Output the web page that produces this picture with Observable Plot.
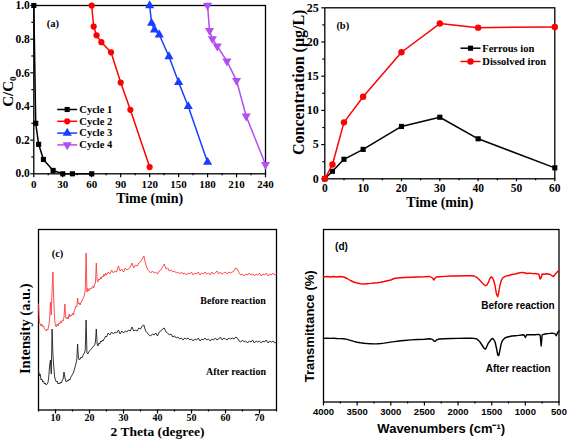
<!DOCTYPE html>
<html><head><meta charset="utf-8">
<script src="https://cdn.jsdelivr.net/npm/d3@7"></script>
<script src="https://cdn.jsdelivr.net/npm/@observablehq/plot@0.6"></script>
<style>
body{margin:0;background:#fff;}
#wrap{position:relative;width:567px;height:444px;overflow:hidden;background:#fff;}
</style></head><body><div id="wrap"></div>
<script>
// ---------- Panel (a) ----------
const cycleNames = ["Cycle 1", "Cycle 2", "Cycle 3", "Cycle 4"];
const cycle1Time = [0, 2, 5, 10, 20, 30, 40, 60];
const cycle1C = [1.0, 0.30, 0.175, 0.085, 0.02, 0.0, 0.0, 0.0];
const cycle2Time = [60, 62, 65, 70, 80, 90, 100, 120];
const cycle2C = [1.0, 0.875, 0.823, 0.782, 0.722, 0.542, 0.38, 0.04];
const cycle3Time = [120, 122, 125, 130, 140, 150, 160, 180];
const cycle3C = [1.0, 0.895, 0.856, 0.826, 0.697, 0.544, 0.40, 0.069];
const cycle4Time = [180, 182, 185, 190, 200, 210, 220, 240];
const cycle4C = [1.0, 0.851, 0.802, 0.758, 0.669, 0.554, 0.342, 0.055];
const aXTicks = [0, 30, 60, 90, 120, 150, 180, 210, 240];
const aXMinor = [15, 45, 75, 105, 135, 165, 195, 225];
const aYTicks = [0, 0.2, 0.4, 0.6, 0.8, 1.0];
const aYMinor = [0.1, 0.3, 0.5, 0.7, 0.9];

// ---------- Panel (b) ----------
const bSeriesNames = ["Ferrous ion", "Dissolved iron"];
const bTime = [0, 2, 5, 10, 20, 30, 40, 60];
const ferrousIon = [0, 1.1, 2.85, 4.3, 7.65, 9.0, 5.85, 1.6];
const dissolvedIron = [0, 2.1, 8.25, 12.0, 18.5, 22.7, 22.1, 22.2];
const bXTicks = [0, 10, 20, 30, 40, 50, 60];
const bXMinor = [5, 15, 25, 35, 45, 55];
const bYTicks = [0, 5, 10, 15, 20, 25];
const bYMinor = [2.5, 7.5, 12.5, 17.5, 22.5];

// ---------- Panel (c) XRD ----------
const xrdTheta = [
  5,5.25,5.5,5.75,6,6.25,6.5,6.75,7,7.25,
  7.5,7.75,8,8.25,8.5,8.75,9,9.25,9.5,9.75,
  10,10.25,10.5,10.75,11,11.25,11.5,11.75,12,12.25,
  12.5,12.75,13,13.25,13.5,13.75,14,14.25,14.5,14.75,
  15,15.25,15.5,15.75,16,16.25,16.5,16.75,17,17.25,
  17.5,17.75,18,18.25,18.5,18.75,19,19.25,19.5,19.75,
  20,20.25,20.5,20.75,21,21.25,21.5,21.75,22,22.25,
  22.5,22.75,23,23.25,23.5,23.75,24,24.25,24.5,24.75,
  25,
  25.5,26,26.5,27,27.5,28,28.5,29,29.5,30,
  30.5,31,31.5,32,32.5,33,33.5,34,34.5,35,
  35.5,36,36.5,37,37.5,38,38.5,39,39.5,40,
  40.5,41,41.5,42,42.5,43,43.5,44,44.5,45,
  45.5,46,46.5,47,47.5,48,48.5,49,49.5,50,
  50.5,51,51.5,52,52.5,53,53.5,54,54.5,55,
  55.5,56,56.5,57,57.5,58,58.5,59,59.5,60,
  60.5,61,61.5,62,62.5,63,63.5,64,64.5,65,
  65.5,66,66.5,67,67.5,68,68.5,69,69.5,70,
  70.5,71,71.5,72,72.5,73,73.5,74,74.5,75
];
const xrdBefore = [
  106,88,86,84,86,83,84,81,80,79,
  81,80,84,90,108,95,120,138,108,90,
  84,83,86,84,87,86,89,87,90,89,
  93,106,93,91,93,91,96,93,95,94,
  97,95,99,101,104,103,112,106,107,105,
  108,109,111,112,115,120,157,118,122,119,
  120,122,121,123,124,122,126,127,147,129,
  128,131,130,133,131,134,133,136,134,137,
  135,
  138,136,140,137,139,138,144,139,141,138,
  142,140,141,143,147,142,145,144,147,148,
  151,154,146,141,139,137,139,137,138,136,
  139,140,143,146,141,142,139,140,138,139,
  137,138,136,138,136,137,135,137,136,138,
  135,137,136,138,135,137,136,138,136,137,
  135,138,136,137,139,136,138,136,137,138,
  136,138,137,138,139,142,141,137,135,136,
  134,136,135,137,135,136,134,136,135,137,
  134,136,135,137,134,136,135,137,135,136
];
const xrdAfter = [
  40,34,36,30,31,28,29,26,27,25,
  26,27,32,44,50,36,81,55,43,33,
  30,28,29,26,27,26,28,27,30,31,
  38,33,29,28,30,29,31,30,33,34,
  36,37,40,43,46,50,66,52,50,51,
  53,52,54,56,57,60,90,57,56,58,
  59,60,61,62,63,64,65,68,81,66,
  64,67,66,69,68,70,69,71,72,74,
  73,
  77,75,78,76,78,77,80,76,79,77,
  79,78,80,79,83,79,80,79,82,81,
  84,85,79,77,75,74,76,75,77,74,
  78,79,81,82,78,77,75,76,73,74,
  72,73,71,72,70,72,71,72,70,71,
  69,71,70,72,69,71,70,72,70,71,
  69,71,70,72,70,71,73,70,72,71,
  70,72,71,72,71,73,72,69,68,70,
  68,69,67,69,68,70,67,69,68,69,
  67,69,68,70,67,69,68,69,67,68
];
const cXTicks = [10, 20, 30, 40, 50, 60, 70];
const cXMinor = [5, 15, 25, 35, 45, 55, 65, 75];

// ---------- Panel (d) FTIR ----------
const wavenumber = [
  4000,3950,3900,3850,3800,3750,3700,3650,3600,3550,
  3500,3450,3400,3350,3300,3250,3200,3150,3100,3050,
  3000,2950,2900,2850,2800,2700,2600,2500,2420,2380,
  2360,2340,2320,2280,2200,2100,2000,1900,1800,1760,
  1720,1680,1640,1610,1590,1570,1550,1530,1510,1490,
  1470,1450,1430,1410,1395,1380,1360,1340,1300,1250,
  1200,1150,1100,1050,1020,1000,980,950,900,870,
  850,820,800,780,765,750,720,690,660,630,
  600,580,560,540,520,500
];
const ftirBefore = [
  127,127.5,127,127.5,127,127.5,127,125.5,123.5,122,
  121,120.3,120,120.3,120.6,121,121.3,121.8,122.5,123.3,
  124,125.5,126,126.3,126.5,126.8,127,127.2,127.5,126,
  124,126,127,127.3,127.6,128,128,128.2,128.3,128,
  126.6,124,121,119,118.3,119,121.6,125,127,126.5,
  123.5,118,110,107.3,112,118,123,126,127.6,128.5,
  129.5,130,131,131.6,131.3,131,130.5,130.8,130.6,130.2,
  130.6,130,129.8,125,126.5,130,129.8,130.2,130,129.5,
  128,127.5,129.5,131,132.5,133.3
];
const ftirAfter = [
  65.6,65.8,65.6,65.8,65.5,65.4,65.2,64.6,63.6,62.6,
  61.8,61.2,60.8,60.5,60.3,60.1,60.2,60.5,60.9,61.4,
  61.9,62.4,62.8,63.2,63.5,64.1,64.5,64.8,65.2,64.6,
  63,62.6,64.2,65,65.3,65.5,65.6,65.7,65.8,65.6,
  65,62.5,58.5,55.5,55,58,61,62.5,64.5,65.6,
  64.5,62,56,49,48.5,53,60,63.5,66.3,67.2,
  68,68.3,68.6,69,69.2,66.5,69.3,69.4,69.2,69.4,
  69.3,69.6,69.5,68.8,58,69.2,69.8,70.2,70.4,70.6,
  70.8,70.6,70.2,68.3,71.5,73
];
const dXTicks = [4000, 3500, 3000, 2500, 2000, 1500, 1000, 500];
const dXMinor = [3750, 3250, 2750, 2250, 1750, 1250, 750];

// ---------- styling ----------
const SERIF = "'Liberation Serif','Times New Roman',Times,serif";
const SANS = "'Liberation Sans',Arial,Helvetica,sans-serif";
const wrap = document.getElementById("wrap");
function mount(svg, left, top) {
  svg.style.position = "absolute";
  svg.style.left = left + "px";
  svg.style.top = top + "px";
  svg.style.maxWidth = "none";
  wrap.appendChild(svg);
}
const lineSym = {draw(ctx) { ctx.moveTo(-10, 0); ctx.lineTo(10, 0); }};
const blank = () => "";
// centred label helper (explicit anchors so frameAnchor does not change them)
function label(str, frameAnchor, opts) {
  return Plot.text([str], {frameAnchor, textAnchor: "middle", lineAnchor: "middle", fill: "#000", ...opts});
}

// ---------- build panel (a) ----------
{
  const times = [cycle1Time, cycle2Time, cycle3Time, cycle4Time];
  const vals = [cycle1C, cycle2C, cycle3C, cycle4C];
  const colors = ["#000000", "#ff0000", "#1a3cff", "#b24ef2"];
  const syms = ["square", "circle", "triangle", "triangle"];
  const rots = [0, 0, 0, 180];
  const rs = [2.9, 3.1, 3.4, 3.4];
  const marks = [
    Plot.frame({stroke: "#000", strokeWidth: 1.3}),
    Plot.axisX({ticks: aXTicks, tickSize: 4, tickPadding: 2, tickFormat: d => String(d), label: null,
      fontSize: 11, fontWeight: "bold", fontFamily: SERIF, strokeWidth: 1.2}),
    Plot.axisX({ticks: aXMinor, tickSize: 2, tickFormat: blank, label: null, strokeWidth: 1.2}),
    Plot.axisY({ticks: aYTicks, tickSize: 3, tickPadding: 1, tickFormat: d3.format(".1f"), label: null,
      fontSize: 11.5, fontWeight: "bold", fontFamily: SERIF, strokeWidth: 1.2}),
    Plot.axisY({ticks: aYMinor, tickSize: 2, tickFormat: blank, label: null, strokeWidth: 1.2})
  ];
  cycleNames.forEach((name, i) => {
    const rows = times[i].map((t, j) => ({t, c: vals[i][j]}));
    marks.push(Plot.line(rows, {x: "t", y: "c", stroke: colors[i], strokeWidth: 1.5}));
    marks.push(Plot.dot(rows, {x: "t", y: "c", symbol: syms[i], fill: colors[i], r: rs[i], rotate: rots[i]}));
    // legend entry
    marks.push(Plot.dot([name], {x: null, y: null, frameAnchor: "top-left", dx: 33.4, dy: 104 + 11.8 * i,
      symbol: lineSym, fill: "none", stroke: colors[i], strokeWidth: 1.5}));
    marks.push(Plot.dot([name], {x: null, y: null, frameAnchor: "top-left", dx: 33.4, dy: 104 + 11.8 * i,
      symbol: syms[i], fill: colors[i], r: rs[i], rotate: rots[i]}));
    marks.push(Plot.text([name], {frameAnchor: "top-left", dx: 45.5, dy: 104 + 11.8 * i, textAnchor: "start", lineAnchor: "middle",
      fontSize: 10.5, fontWeight: "bold", fontFamily: SERIF, fill: "#000"}));
  });
  marks.push(label("(a)", "top-left", {dx: 19, dy: 18, fontSize: 10.5, fontWeight: "bold", fontFamily: SERIF}));
  marks.push(label("Time (min)", "bottom", {dy: 25, fontSize: 14, fontWeight: "bold", fontFamily: SERIF}));
  marks.push(label("C/C\u2080", "left", {rotate: -90, dx: -26, dy: 2, fontSize: 15, fontWeight: "bold", fontFamily: SERIF}));
  const svg = Plot.plot({
    width: 283, height: 212, marginLeft: 33.3, marginRight: 18, marginTop: 5, marginBottom: 38.7,
    style: {fontFamily: SERIF, fontWeight: "bold", fontSize: "11px", color: "#000", background: "transparent", overflow: "visible"},
    x: {domain: [0, 240], label: null},
    y: {domain: [0, 1], label: null},
    marks
  });
  mount(svg, 0, 0);
}

// ---------- build panel (b) ----------
{
  const series = [ferrousIon, dissolvedIron];
  const colors = ["#000000", "#ff0000"];
  const syms = ["square", "circle"];
  const rs = [2.9, 3.2];
  const marks = [
    Plot.frame({stroke: "#000", strokeWidth: 1.3}),
    Plot.axisX({ticks: bXTicks, tickSize: 3, tickPadding: 2, tickFormat: d => String(d), label: null,
      fontSize: 11.5, fontWeight: "bold", fontFamily: SERIF, strokeWidth: 1.2}),
    Plot.axisX({ticks: bXMinor, tickSize: 2, tickFormat: blank, label: null, strokeWidth: 1.2}),
    Plot.axisY({ticks: bYTicks, tickSize: 3, tickPadding: 3, tickFormat: d => String(d), label: null,
      fontSize: 12, fontWeight: "bold", fontFamily: SERIF, strokeWidth: 1.2}),
    Plot.axisY({ticks: bYMinor, tickSize: 2, tickFormat: blank, label: null, strokeWidth: 1.2})
  ];
  bSeriesNames.forEach((name, i) => {
    const rows = bTime.map((t, j) => ({t, v: series[i][j]}));
    marks.push(Plot.line(rows, {x: "t", y: "v", stroke: colors[i], strokeWidth: 1.5}));
    marks.push(Plot.dot(rows, {x: "t", y: "v", symbol: syms[i], fill: colors[i], r: rs[i]}));
    marks.push(Plot.dot([name], {x: null, y: null, frameAnchor: "top-left", dx: 145.7, dy: 40.4 + 13.3 * i,
      symbol: lineSym, fill: "none", stroke: colors[i], strokeWidth: 1.5}));
    marks.push(Plot.dot([name], {x: null, y: null, frameAnchor: "top-left", dx: 145.7, dy: 40.4 + 13.3 * i,
      symbol: syms[i], fill: colors[i], r: rs[i]}));
    marks.push(Plot.text([name], {frameAnchor: "top-left", dx: 157.5, dy: 40.4 + 13.3 * i, textAnchor: "start", lineAnchor: "middle",
      fontSize: 10.5, fontWeight: "bold", fontFamily: SERIF, fill: "#000"}));
  });
  marks.push(label("(b)", "top-left", {dx: 18, dy: 18, fontSize: 10.5, fontWeight: "bold", fontFamily: SERIF}));
  marks.push(label("Time (min)", "bottom", {dy: 23.5, fontSize: 14, fontWeight: "bold", fontFamily: SERIF}));
  marks.push(label("Concentration (\u03bcg/L)", "left", {rotate: -90, dx: -26, dy: -11, fontSize: 16, fontWeight: "bold", fontFamily: SERIF}));
  const svg = Plot.plot({
    width: 284, height: 212, marginLeft: 41.3, marginRight: 12.7, marginTop: 7.3, marginBottom: 33.7,
    style: {fontFamily: SERIF, fontWeight: "bold", fontSize: "11px", color: "#000", background: "transparent", overflow: "visible"},
    x: {domain: [0, 60], label: null},
    y: {domain: [0, 25], label: null},
    marks
  });
  mount(svg, 283, 0);
}

// ---------- build panel (c) ----------
{
  const before = xrdTheta.map((t, i) => ({t, v: xrdBefore[i]}));
  const after = xrdTheta.map((t, i) => ({t, v: xrdAfter[i]}));
  const marks = [
    Plot.frame({stroke: "#000", strokeWidth: 1.3}),
    Plot.axisX({ticks: cXTicks, tickSize: 4, tickPadding: 0, tickFormat: d => String(d), label: null,
      fontSize: 10, fontWeight: "bold", fontFamily: SERIF, strokeWidth: 1.2}),
    Plot.axisX({ticks: cXMinor, tickSize: 2, tickFormat: blank, label: null, strokeWidth: 1.2}),
    Plot.line(before, {x: "t", y: "v", stroke: "#ff3c3c", strokeWidth: 0.9}),
    Plot.line(after, {x: "t", y: "v", stroke: "#1e1e1e", strokeWidth: 0.9}),
    label("(c)", "top-left", {dx: 19, dy: 24, fontSize: 10.5, fontWeight: "bold", fontFamily: SERIF}),
    label("Before reaction", "top-left", {dx: 194.5, dy: 71, fontSize: 10, fontWeight: "bold", fontFamily: SERIF}),
    label("After reaction", "top-left", {dx: 197.5, dy: 142, fontSize: 10, fontWeight: "bold", fontFamily: SERIF}),
    label("2 Theta (degree)", "bottom", {dy: 21.5, fontSize: 13.5, fontWeight: "bold", fontFamily: SERIF}),
    label("Intensity (a.u.)", "left", {rotate: -90, dx: -13, dy: 9, fontSize: 14.5, fontWeight: "bold", fontFamily: SERIF})
  ];
  const svg = Plot.plot({
    width: 283, height: 229, marginLeft: 38, marginRight: 7, marginTop: 14, marginBottom: 34.5,
    style: {fontFamily: SERIF, fontWeight: "bold", fontSize: "11px", color: "#000", background: "transparent", overflow: "visible"},
    x: {domain: [5, 75], label: null},
    y: {domain: [0, 180.5], label: null, axis: null},
    marks
  });
  mount(svg, 0, 215);
}

// ---------- build panel (d) ----------
{
  const before = wavenumber.map((w, i) => ({w, v: ftirBefore[i]}));
  const after = wavenumber.map((w, i) => ({w, v: ftirAfter[i]}));
  const marks = [
    Plot.frame({stroke: "#000", strokeWidth: 1.3}),
    Plot.axisX({ticks: dXTicks, tickSize: 4, tickPadding: 2, tickFormat: d => String(d), label: null,
      fontSize: 9.5, fontWeight: "bold", fontFamily: SANS, strokeWidth: 1.2}),
    Plot.axisX({ticks: dXMinor, tickSize: 2, tickFormat: blank, label: null, strokeWidth: 1.2}),
    Plot.line(before, {x: "w", y: "v", stroke: "#ff0000", strokeWidth: 1.4}),
    Plot.line(after, {x: "w", y: "v", stroke: "#000000", strokeWidth: 1.4}),
    label("(d)", "top-left", {dx: 18, dy: 17, fontSize: 10, fontWeight: "bold", fontFamily: SANS}),
    label("Before reaction", "top-left", {dx: 194.5, dy: 76.7, fontSize: 10, fontWeight: "bold", fontFamily: SANS}),
    label("After reaction", "top-left", {dx: 194.7, dy: 139.3, fontSize: 10, fontWeight: "bold", fontFamily: SANS}),
    label("Wavenumbers (cm\u207b\u00b9)", "bottom", {dy: 27, fontSize: 13, fontWeight: "bold", fontFamily: SANS}),
    label("Transmittance (%)", "left", {rotate: -90, dx: -13.3, dy: 10.6, fontSize: 13, fontWeight: "bold", fontFamily: SANS})
  ];
  const svg = Plot.plot({
    width: 284, height: 229, marginLeft: 40, marginRight: 8.5, marginTop: 14, marginBottom: 42.5,
    style: {fontFamily: SANS, fontWeight: "bold", fontSize: "10px", color: "#000", background: "transparent", overflow: "visible"},
    x: {domain: [4000, 500], label: null},
    y: {domain: [2, 174.5], label: null, axis: null},
    marks
  });
  mount(svg, 283, 215);
}
</script></body></html>
